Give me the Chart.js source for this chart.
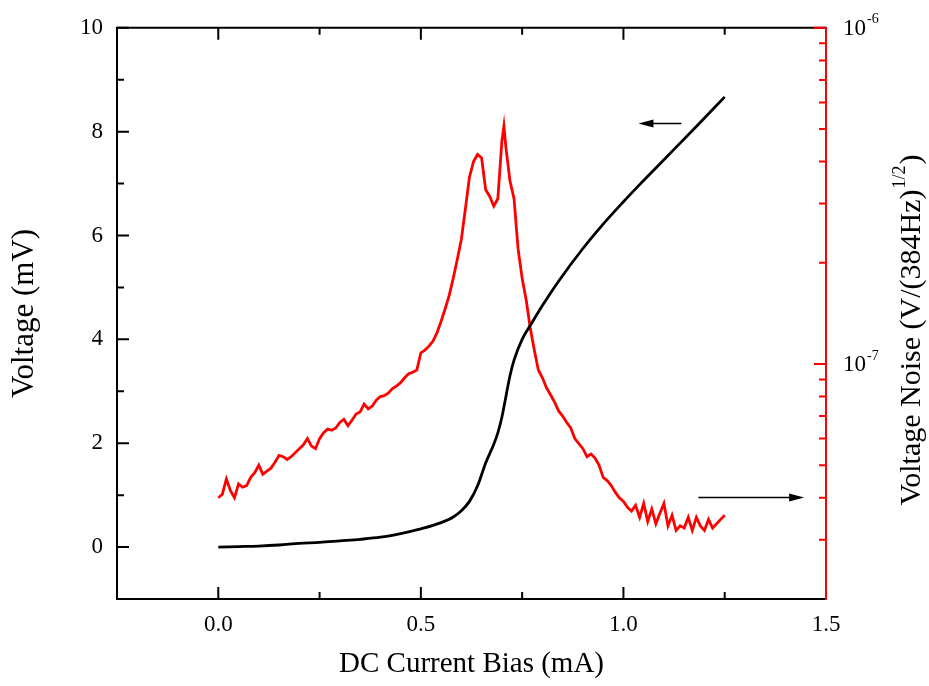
<!DOCTYPE html>
<html>
<head>
<meta charset="utf-8">
<script src="https://cdn.jsdelivr.net/npm/chart.js@4"></script>
<style>
body { margin: 0; background: #fff; }
</style>
</head>
<body>
<canvas id="chart" width="929" height="686"></canvas>
<script>
// DC voltage (mV) vs bias current (mA)
var voltageCurrent = [0, 0.05, 0.1, 0.15, 0.2, 0.25, 0.3, 0.35, 0.4, 0.45, 0.5, 0.55, 0.58, 0.6, 0.62, 0.64,
	0.66, 0.68, 0.69, 0.7, 0.71, 0.72, 0.73, 0.75, 0.775, 0.8, 0.84, 0.9, 0.95, 1.0, 1.04, 1.1, 1.18, 1.25];
var voltage = [0, 0.01, 0.02, 0.04, 0.07, 0.09, 0.12, 0.15, 0.19, 0.26, 0.35, 0.47, 0.58, 0.7, 0.88, 1.18,
	1.62, 1.98, 2.2, 2.5, 2.9, 3.3, 3.6, 4.0, 4.33, 4.65, 5.12, 5.75, 6.22, 6.65, 6.98, 7.46, 8.1, 8.67];

// voltage noise, in units of 1e-8 V/(384Hz)^1/2
var noiseCurrent = [0, 0.01, 0.02, 0.03, 0.04, 0.05, 0.06, 0.07, 0.08, 0.09, 0.1, 0.11, 0.12, 0.13, 0.14,
	0.15, 0.16, 0.17, 0.18, 0.19, 0.2, 0.21, 0.22, 0.23, 0.24, 0.25, 0.26, 0.27, 0.28, 0.29, 0.3, 0.31, 0.32,
	0.33, 0.34, 0.35, 0.36, 0.37, 0.38, 0.39, 0.4, 0.41, 0.42, 0.43, 0.44, 0.45, 0.46, 0.47, 0.48, 0.49, 0.5,
	0.51, 0.52, 0.53, 0.54, 0.55, 0.56, 0.57, 0.58, 0.59, 0.6, 0.61, 0.62, 0.63, 0.64, 0.65, 0.66, 0.67, 0.68,
	0.69, 0.7, 0.705, 0.71, 0.72, 0.73, 0.74, 0.75, 0.76, 0.77, 0.78, 0.79, 0.8, 0.81, 0.82, 0.83, 0.84, 0.85,
	0.86, 0.87, 0.88, 0.89, 0.9, 0.91, 0.92, 0.93, 0.94, 0.95, 0.96, 0.97, 0.98, 0.99, 1.0, 1.01, 1.02, 1.03,
	1.04, 1.05, 1.06, 1.07, 1.08, 1.09, 1.1, 1.11, 1.12, 1.13, 1.14, 1.15, 1.16, 1.17, 1.18, 1.19, 1.2, 1.21,
	1.22, 1.23, 1.24, 1.25];
var noise = [4.0, 4.1, 4.55, 4.2, 4.0, 4.4, 4.3, 4.35, 4.6, 4.75, 5.0, 4.7, 4.8, 4.9, 5.1,
	5.35, 5.3, 5.2, 5.3, 5.45, 5.6, 5.75, 6.0, 5.7, 5.6, 6.0, 6.25, 6.4, 6.35, 6.45, 6.7, 6.85, 6.55,
	6.8, 7.1, 7.2, 7.6, 7.35, 7.5, 7.8, 8.0, 8.05, 8.2, 8.45, 8.6, 8.8, 9.1, 9.35, 9.45, 9.6, 10.8,
	11.0, 11.3, 11.7, 12.4, 13.4, 14.6, 16.0, 18.0, 20.5, 23.5, 29, 36, 40, 42, 41, 33, 31.5, 29.5,
	31, 46, 51, 44, 35, 31, 22, 18, 15.5, 12.8, 11, 9.6, 9.1, 8.5, 8.1, 7.7, 7.25, 7.0,
	6.7, 6.45, 6.0, 5.8, 5.6, 5.3, 5.4, 5.25, 5.0, 4.6, 4.5, 4.35, 4.15, 4.0, 3.9, 3.75, 3.65, 3.8,
	3.5, 3.85, 3.4, 3.7, 3.35, 3.6, 3.85, 3.3, 3.55, 3.2, 3.3, 3.25, 3.5, 3.2, 3.5, 3.3, 3.2, 3.45,
	3.25, 3.35, 3.45, 3.55];

var xMajor = [0, 0.5, 1.0, 1.5];
var xMinor = [0.25, 0.75, 1.25];
var yMajor = [0, 2, 4, 6, 8, 10];
var yMinor = [1, 3, 5, 7, 9];
var noiseMajor = [1e-7, 1e-6];
var noiseMinor = [3e-8, 4e-8, 5e-8, 6e-8, 7e-8, 8e-8, 9e-8, 2e-7, 3e-7, 4e-7, 5e-7, 6e-7, 7e-7, 8e-7, 9e-7];

var serif = "'Liberation Serif', 'Times New Roman', serif";
var red = "#ff0000";

function points(xs, ys, k) {
	return xs.map(function (x, i) {
		return { x: x, y: ys[i] * k };
	});
}

// frame, inward ticks, right axis labels and the two arrows
var decorations = {
	id: "decorations",
	afterDatasetsDraw: function (chart) {
		var ctx = chart.ctx;
		var a = chart.chartArea;
		var sx = chart.scales.x, sy = chart.scales.y, sn = chart.scales.noise;
		ctx.save();
		ctx.lineCap = "butt";
		ctx.lineWidth = 2;
		ctx.strokeStyle = "#000";
		ctx.beginPath();
		ctx.moveTo(a.right, a.top);
		ctx.lineTo(a.left, a.top);
		ctx.lineTo(a.left, a.bottom);
		ctx.lineTo(a.right, a.bottom);
		ctx.stroke();

		ctx.beginPath();
		xMajor.concat(xMinor).forEach(function (v) {
			var len = xMajor.indexOf(v) >= 0 ? 12 : 7;
			var px = sx.getPixelForValue(v);
			ctx.moveTo(px, a.bottom);
			ctx.lineTo(px, a.bottom - len);
			ctx.moveTo(px, a.top);
			ctx.lineTo(px, a.top + len);
		});
		yMajor.concat(yMinor).forEach(function (v) {
			var len = yMajor.indexOf(v) >= 0 ? 12 : 7;
			var py = sy.getPixelForValue(v);
			ctx.moveTo(a.left, py);
			ctx.lineTo(a.left + len, py);
		});
		ctx.stroke();

		ctx.strokeStyle = red;
		ctx.beginPath();
		ctx.moveTo(a.right, a.top - 1);
		ctx.lineTo(a.right, a.bottom + 1);
		noiseMajor.concat(noiseMinor).forEach(function (v) {
			var len = noiseMajor.indexOf(v) >= 0 ? 12 : 7;
			var py = sn.getPixelForValue(v);
			ctx.moveTo(a.right, py);
			ctx.lineTo(a.right - len, py);
		});
		ctx.stroke();

		// right tick labels 10^n
		ctx.fillStyle = "#000";
		ctx.textBaseline = "middle";
		ctx.textAlign = "left";
		noiseMajor.forEach(function (v) {
			var py = sn.getPixelForValue(v);
			ctx.font = "23px " + serif;
			ctx.fillText("10", a.right + 17, py + 1);
			var w = ctx.measureText("10").width;
			ctx.font = "14px " + serif;
			ctx.fillText("-" + Math.round(-Math.log10(v)), a.right + 18 + w, py - 8);
		});

		// right axis title with superscript
		ctx.translate(912, 330);
		ctx.rotate(-Math.PI / 2);
		var main = "Voltage Noise (V/(384Hz)";
		ctx.font = "30px " + serif;
		var w1 = ctx.measureText(main).width;
		var w3 = ctx.measureText(")").width;
		ctx.font = "18px " + serif;
		var w2 = ctx.measureText("1/2").width;
		var x0 = -(w1 + w2 + w3 + 2) / 2;
		ctx.font = "30px " + serif;
		ctx.fillText(main, x0, 0);
		ctx.fillText(")", x0 + w1 + w2 + 2, 0);
		ctx.font = "18px " + serif;
		ctx.fillText("1/2", x0 + w1 + 1, -12);
		ctx.setTransform(1, 0, 0, 1, 0, 0);

		// arrows pointing to each curve's axis
		arrows.forEach(function (ar) {
			var x1 = sx.getPixelForValue(ar.from), x2 = sx.getPixelForValue(ar.to);
			var py = Math.round(sy.getPixelForValue(ar.at)) + 0.5;
			var dir = x2 > x1 ? 1 : -1;
			ctx.strokeStyle = "#000";
			ctx.lineWidth = 1.3;
			ctx.beginPath();
			ctx.moveTo(x1, py);
			ctx.lineTo(x2 - dir * 10, py);
			ctx.stroke();
			ctx.fillStyle = "#000";
			ctx.beginPath();
			ctx.moveTo(x2, py);
			ctx.lineTo(x2 - dir * 15, py - 4);
			ctx.lineTo(x2 - dir * 15, py + 4);
			ctx.closePath();
			ctx.fill();
		});
		ctx.restore();
	},
};

var arrows = [
	{ from: 1.143, to: 1.037, at: 8.17 },
	{ from: 1.185, to: 1.446, at: 0.96 },
];

var ctx = document.getElementById("chart").getContext("2d");
new Chart(ctx, {
	type: "line",
	data: {
		datasets: [
			{
				label: "Voltage",
				data: points(voltageCurrent, voltage, 1),
				yAxisID: "y",
				borderColor: "#000",
				borderWidth: 2.8,
				pointRadius: 0,
				cubicInterpolationMode: "monotone",
				fill: false,
			},
			{
				label: "Voltage Noise",
				data: points(noiseCurrent, noise, 1e-8),
				yAxisID: "noise",
				borderColor: red,
				borderWidth: 2.8,
				pointRadius: 0,
				tension: 0,
				fill: false,
			},
		],
	},
	options: {
		responsive: false,
		devicePixelRatio: 1,
		animation: false,
		layout: { padding: { top: 27, left: 0, right: 0, bottom: 0 } },
		plugins: { legend: { display: false }, tooltip: { enabled: false } },
		scales: {
			x: {
				type: "linear",
				min: -0.25,
				max: 1.5,
				afterBuildTicks: function (s) {
					s.ticks = xMajor.map(function (v) { return { value: v }; });
				},
				afterFit: function (s) { s.height = 87; },
				grid: { display: false, drawTicks: false },
				border: { display: false },
				ticks: {
					padding: 12,
					color: "#000",
					font: { family: serif, size: 23 },
					maxRotation: 0,
					callback: function (v) { return Number(v).toFixed(1); },
				},
				title: {
					display: true,
					text: "DC Current Bias (mA)",
					color: "#000",
					padding: 4,
					font: { family: serif, size: 29, weight: "normal" },
				},
			},
			y: {
				type: "linear",
				position: "left",
				min: -1,
				max: 10,
				afterBuildTicks: function (s) {
					s.ticks = yMajor.map(function (v) { return { value: v }; });
				},
				afterFit: function (s) { s.width = 117; },
				grid: { display: false, drawTicks: false },
				border: { display: false },
				ticks: {
					padding: 14,
					color: "#000",
					font: { family: serif, size: 23 },
				},
				title: {
					display: true,
					text: "Voltage (mV)",
					color: "#000",
					padding: 6,
					font: { family: serif, size: 31, weight: "normal" },
				},
			},
			noise: {
				type: "logarithmic",
				position: "right",
				min: 2e-8,
				max: 1e-6,
				afterFit: function (s) { s.width = 103; },
				grid: { display: false, drawTicks: false },
				border: { display: false },
				ticks: { display: false },
			},
		},
	},
	plugins: [decorations],
});
</script>
</body>
</html>
